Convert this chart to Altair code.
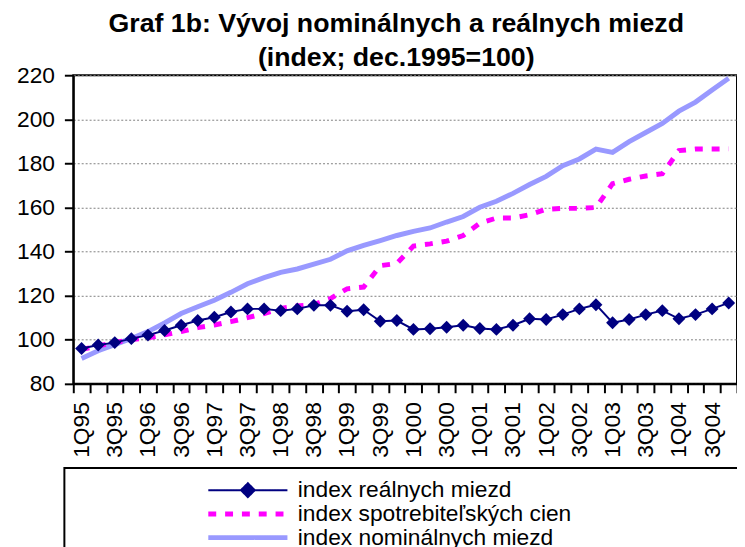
import altair as alt
import pandas as pd

quarters = [
    "1Q95", "2Q95", "3Q95", "4Q95", "1Q96", "2Q96", "3Q96", "4Q96",
    "1Q97", "2Q97", "3Q97", "4Q97", "1Q98", "2Q98", "3Q98", "4Q98",
    "1Q99", "2Q99", "3Q99", "4Q99", "1Q00", "2Q00", "3Q00", "4Q00",
    "1Q01", "2Q01", "3Q01", "4Q01", "1Q02", "2Q02", "3Q02", "4Q02",
    "1Q03", "2Q03", "3Q03", "4Q03", "1Q04", "2Q04", "3Q04", "4Q04",
]

real_wages = [96.0, 97.6, 98.7, 100.5, 102.1, 104.2, 106.6, 108.7, 110.2, 112.6,
              114.0, 114.0, 113.2, 114.0, 115.6, 115.6, 112.9, 113.6, 108.4, 108.7,
              104.7, 105.0, 105.7, 106.6, 105.1, 104.7, 106.6, 109.5, 109.2, 111.4,
              114.0, 115.9, 107.7, 109.2, 111.4, 113.2, 109.5, 111.4, 114.0, 116.7]

cpi = [95.6, 97.2, 98.8, 100.1, 100.9, 102.2, 103.7, 105.5, 106.7, 108.2,
       110.0, 111.9, 114.2, 115.3, 116.0, 118.7, 123.1, 123.9, 133.6, 134.6,
       142.5, 143.5, 144.7, 147.3, 152.9, 155.2, 155.2, 156.7, 159.2, 159.6,
       159.6, 160.0, 170.8, 172.8, 174.3, 175.3, 185.8, 186.5, 186.5, 186.6]

nominal_wages = [91.5, 95.0, 97.8, 100.6, 103.7, 107.6, 111.9, 115.0, 117.9, 121.5,
                 125.4, 128.2, 130.6, 132.1, 134.3, 136.5, 140.3, 142.8, 145.0, 147.3,
                 149.2, 150.7, 153.4, 155.9, 160.1, 162.8, 166.4, 170.4, 174.1, 179.0,
                 182.0, 186.5, 185.0, 189.9, 194.0, 198.1, 203.7, 207.8, 213.3, 218.6]

S_REAL = "index reálnych miezd"
S_CPI = "index spotrebiteľských cien"
S_NOM = "index nominálnych miezd"
series_names = [S_REAL, S_CPI, S_NOM]
series_colors = ["#000080", "#FF00FF", "#9999FF"]

rows = []
for name, vals in [(S_REAL, real_wages), (S_CPI, cpi), (S_NOM, nominal_wages)]:
    for q, v in zip(quarters, vals):
        rows.append({"q": q, "series": name, "value": v})
df = pd.DataFrame(rows)

FONT = "Liberation Sans"
W, H = 671, 312

x_enc = alt.X(
    "q:O",
    sort=quarters,
    bandPosition=0.5,
    scale=alt.Scale(type="band", domain=quarters, paddingInner=0, paddingOuter=0),
    axis=alt.Axis(
        title=None, labelAngle=270, labelFontSize=23, labelFont=FONT,
        labelColor="black", labelPadding=9, labelOverlap=False,
        labelExpr="(substring(datum.value,0,1)=='1' || substring(datum.value,0,1)=='3') ? datum.value : ''",
        tickBand="extent", tickSize=9, tickWidth=2, tickColor="black",
        domainColor="black", domainWidth=2, grid=False,
    ),
)
y_enc = alt.Y(
    "value:Q",
    scale=alt.Scale(domain=[80, 220], nice=False, zero=False),
    axis=alt.Axis(
        title=None, values=[80, 100, 120, 140, 160, 180, 200, 220],
        labelFontSize=23, labelFont=FONT, labelColor="black", labelPadding=10,
        tickSize=9, tickWidth=2, tickColor="black",
        domainColor="black", domainWidth=2,
        grid=True, gridColor="#808080", gridDash=[2, 2], gridWidth=1,
    ),
)

legend = alt.Legend(
    title=None, orient="none", legendX=136, legendY=408, direction="vertical",
    labelFont=FONT, labelFontSize=23, labelColor="black", labelLimit=600,
    symbolSize=400, symbolOffset=29, labelOffset=39, rowPadding=0, padding=0,
    symbolType={"expr": f"datum.value == '{S_REAL}' ? 'M-4,0H4M0,-0.7L0.7,0L0,0.7L-0.7,0Z' : 'M-4,0H4'"},
    symbolFillColor={"expr": f"datum.value == '{S_REAL}' ? '#000080' : 'transparent'"},
    symbolStrokeWidth={"expr": f"datum.value == '{S_REAL}' ? 2 : 5"},
    symbolDash={"expr": f"datum.value == '{S_CPI}' ? [8, 9] : [1, 0]"},
    symbolOpacity=1,
)
color_enc = alt.Color(
    "series:N",
    scale=alt.Scale(domain=series_names, range=series_colors),
    legend=legend,
)

base = alt.Chart()

frame = alt.Chart(pd.DataFrame({"f": [0]})).mark_rect(
    filled=False, stroke="black", strokeWidth=2
).encode(
    x=alt.value(-9), x2=alt.value(W + 30), y=alt.value(H + 85), y2=alt.value(H + 200)
)

nom_line = base.mark_line(strokeWidth=5).encode(x=x_enc, y=y_enc, color=color_enc).transform_filter(
    alt.datum.series == S_NOM)
cpi_line = base.mark_line(strokeWidth=5, strokeDash=[8, 9]).encode(x=x_enc, y=y_enc, color=color_enc).transform_filter(
    alt.datum.series == S_CPI)
real_line = base.mark_line(strokeWidth=2).encode(x=x_enc, y=y_enc, color=color_enc).transform_filter(
    alt.datum.series == S_REAL)
real_pts = base.mark_point(shape="diamond", filled=True, size=170, color="#000080", opacity=1).encode(
    x=x_enc, y=y_enc).transform_filter(alt.datum.series == S_REAL)

chart = alt.layer(frame, nom_line, cpi_line, real_line, real_pts, data=df).properties(
    width=W, height=H,
    title=alt.Title(
        text=["Graf 1b: Vývoj nominálnych a reálnych miezd", "(index; dec.1995=100)"],
        font=FONT, fontSize=27, fontWeight="bold", color="black",
        anchor="middle", frame="group", lineHeight=35, offset=4, dx=-9, dy=12,
    ),
    padding={"left": 66, "top": 65, "right": 0, "bottom": 162},
    autosize=alt.AutoSizeParams(type="none"),
).configure(font=FONT).configure_view(stroke="black", strokeWidth=2)

chart.save("out.html", embed_options={"renderer": "svg", "actions": False})
